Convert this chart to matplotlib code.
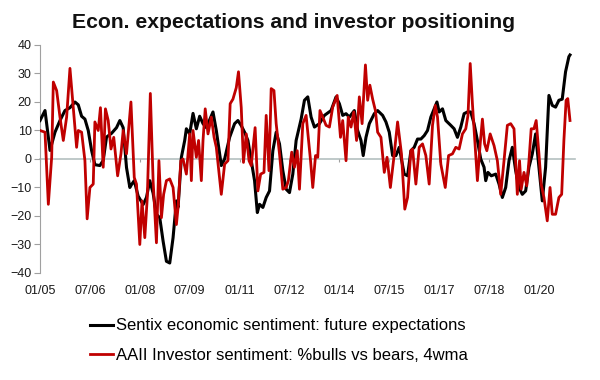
import matplotlib
matplotlib.use("Agg")
import matplotlib.pyplot as plt

plt.rcParams['font.family'] = ['Liberation Sans', 'DejaVu Sans']

title = "Econ. expectations and investor positioning"
label_sentix = "Sentix economic sentiment: future expectations"
label_aaii = "AAII Investor sentiment: %bulls vs bears, 4wma"

# x = months since Jan 2005
tick_months = [0, 18, 36, 54, 72, 90, 108, 126, 144, 162, 180]
tick_labels = ["01/05", "07/06", "01/08", "07/09", "01/11", "07/12",
               "01/14", "07/15", "01/17", "07/18", "01/20"]
y_ticks = [-40, -30, -20, -10, 0, 10, 20, 30, 40]

sentix_month = [0, 1.8, 3.6, 5.4, 7.2, 9, 10.8, 12.6, 13.8, 15, 16.2, 17.4, 18.6, 19.8,
                21.6, 22.8, 24, 25.8, 27.6, 28.8, 30, 31.2, 32.4, 33, 34, 35.4, 37.2,
                38.4, 39.6, 40.8, 42, 43.2, 44.4, 45.6, 46.8, 48, 49.2, 49.8, 51, 52.2,
                52.8, 54, 55.2, 56.4, 57.6, 58.8, 60, 62.4, 63.6, 65.4, 66.6, 68.4,
                70.2, 71.4, 72.6, 73.8, 75, 76.2, 77.4, 78.4, 79.2, 80.4, 81.6, 82.8,
                84, 85.2, 86.4, 87.6, 88.8, 90, 91.2, 92.4, 94.2, 95.4, 96.6, 97.8, 99,
                100.8, 102.6, 105, 106.8, 108, 109.2, 110.4, 111.6, 113.4, 114.6,
                115.8, 116.6, 117.6, 118.8, 120.6, 121.8, 123.6, 124.8, 126, 127.2,
                128.4, 129.6, 131.4, 132.6, 133.8, 135, 136.2, 137.4, 138.6, 139.8,
                141, 142.2, 143.2, 144, 145.2, 146.4, 148.2, 149.4, 150.6, 151.8, 153,
                154.2, 155.4, 156.6, 157.8, 159, 160.2, 160.8, 161.6, 162.8, 164.4,
                165.6, 166.8, 168, 169.2, 170.4, 171.6, 172.8, 174, 175.2, 176.4,
                177.6, 178.8, 180, 181.2, 182.4, 183.6, 184.8, 186, 187.2, 188.4,
                189.6, 190.8, 191.2]
sentix_value = [13.5, 17, 3, 9.4, 13.5, 17, 18, 20, 19, 15, 14, 10, 3, -2,
                -2.3, -0.5, 7.7, 9, 11, 13.5, 11, -3, -10, -9, -7.6, -13, -16,
                -13.5, -7.6, -12, -19.4, -20.6, -28.8, -35.9, -36.5, -27.6, -14.7, -17, 0.6, 6.5,
                10.6, 8.8, 16, 10.6, 15, 12.4, 11, 16.5, 10, -2.3, 0, 7.6,
                12.4, 13.5, 11.7, 9.4, 6.5, -0.6, -7.6, -18.8, -15.9, -17, -13.5, -11.2,
                2.9, 9.4, 5.3, -4.1, -10.6, -11.8, -5.3, 6.5, 14, 20.6, 21.8, 14.7, 11.2,
                12.4, 15.3, 17, 21.8, 19.4, 15.3, 15.9, 14.7, 17, 10,
                6.5, 1.2, 7.6, 12.4, 15.9, 17, 15.3, 13, 9.4, 1.2,
                1.2, 4.1, -5.3, -5.9, 2.9, 4.1, 7, 7, 8.2, 10,
                14.7, 17.6, 20, 16.5, 17.6, 13.5, 11.8, 10.6, 7.6, 11.2, 15.9,
                16.5, 16.5, 12.4, 6.5, 0, -2.9, -7.6, -4.7, -5.9, -5.3,
                -8.8, -13.5, -10, -0.6, 4.1, -4.1, -10, -12.4, -11.2, -2.9,
                1.8, 8.8, -2.9, -14.7, -2.9, 22.3, 18.8, 18.2, 20.6, 21,
                30.6, 35.9, 36.5]

aaii_month = [0, 1.8, 3, 4.2, 4.8, 6, 7.2, 8.4, 9.6, 10.8, 12, 13.2, 13.8, 15, 16.2, 17,
              18, 19.2, 19.8, 21, 21.8, 22.8, 23.6, 24.6, 25.6, 26.6, 28, 29.2, 30,
              31.2, 32.8, 34, 34.8, 36, 36.8, 37.8, 38.7, 39.8, 40.8, 42, 42.9, 43.8,
              44.6, 45.6, 46.8, 48, 49.2, 49.8, 50.8, 51.6, 52.8, 54, 54.6, 55.2, 56.4,
              57.2, 58.2, 58.8, 59.6, 60.6, 61.8, 62.8, 63.6, 65.4, 66.6, 67.8, 68.6,
              69.6, 70.8, 71.6, 72.6, 73.4, 74.4, 75.4, 76.2, 77.6, 78.6, 79.6, 80.8,
              81.6, 82.6, 83.4, 84.4, 85.2, 86.4, 87.6, 88.8, 89.6, 90.8, 91.8, 92.8,
              93.6, 94.8, 96, 97.6, 98.4, 99.4, 100.2, 101, 102, 103.2, 104.4, 105.6,
              107.2, 108.4, 109.2, 110.4, 111.2, 112.2, 113.2, 114.2, 115.2, 116.2,
              117.4, 118.2, 119, 120, 121, 121.8, 123, 124.2, 125.2, 126.4, 127.6, 129,
              130.4, 131.6, 132.6, 133.8, 134.4, 135.6, 136.8, 138, 139.2, 140.4, 141.6,
              142.6, 143.4, 144.6, 146.2, 147.4, 148.8, 150, 151.2, 152.4, 153.6, 154.4,
              155.2, 156, 157, 157.8, 158.8, 159.6, 160.4, 161.2, 162.4, 163.8, 165,
              166.2, 167.4, 168.6, 169.8, 171, 172.2, 173, 173.6, 174.6, 175.6, 176.4,
              177.2, 178.2, 179, 180, 180.8, 181.8, 183, 184, 184.8, 186, 187.2, 188.2,
              189, 189.8, 190.4, 191.2]
aaii_value = [10, 9.4, -15.9, 0.6, 27, 24, 14.7, 6.5, 14.7, 31.8, 18, 4.1, 10, 9.4, -0.6, -21,
              -10, -8.8, 13, 10, 18, -2.9, 17.6, 13.5, 3.5, 7.6, -5.9, 1.8, 10,
              1.8, 20, -6.5, -8.8, -30, -14.7, -27.6, -13.5, 23, -7.6, -29.4, -0.6, -20.6,
              -12.4, -7.6, -7, -10, -23, -17, -0.6, 0, -5.3, 8.8, -7.6, 10, 0.6,
              6.5, -7.6, 6.5, 17.6, 8.8, 14.7, 7.6, 4.1, -12.4, -1.8, -0.6, 19.4,
              21, 25, 30.6, 18, -1.2, 8.8, -0.6, -2.3, 11, -11.2, -5.3, -4.7,
              15.3, -4.1, 24.7, 24, 12.4, 1.8, -10.6, -10, -7.6, 2.4, -2.9, 2.9,
              -10.6, 12.4, 15.3, -0.6, -10, 1.2, 0.6, 17, 14.7, 11.8, 11.2, 18.2,
              22.3, 7.6, 13.5, -0.6, 14.7, 11.2, 16.5, 6.5, 21.8, 12.4,
              33, 20.6, 25.9, 21, 17, 9.4, 7.6, -4.7, 0.6, -10, 0, 13,
              1.8, -17.6, -13.5, 2.9, 3.5, -8.8, 4.1, 5.3, 1.2, -8.8, 11.8,
              18.8, 14.7, -1.8, -10, 1.2, 1.8, 4.1, 3.5, 8.8, 10.6, 15.3,
              33.5, 19.4, 4.1, -7.6, 5.3, 14, 5.3, 2.9, 8.8, 4.7, -0.6,
              -12.4, -0.6, 11.8, 12.4, 10.6, -12.4, -0.6, -10.6, -4.7, -9.4, -0.6,
              10.6, 10.6, 13.5, 1.8, -8.8, -13.5, -21.7, -10, -19.4, -19.4, -13.5, -12.4,
              6.5, 20.6, 21.2, 13.5]

fig = plt.figure(figsize=(6, 3.8), dpi=100)
ax = fig.add_axes([0.0667, 0.2816, 0.8916, 0.6])

ax.plot(sentix_month, sentix_value, color='black', lw=2.2, label=label_sentix, zorder=3)
ax.plot(aaii_month, aaii_value, color='#C00000', lw=2.0, label=label_aaii, zorder=4)

ax.set_xlim(0, 193)
ax.set_ylim(-40, 40)

# zero line axis with small ticks
for s in ['top', 'right']:
    ax.spines[s].set_visible(False)
ax.spines['left'].set_color('#A0A0A0')
ax.spines['bottom'].set_position(('data', 0))
ax.spines['bottom'].set_color('#B4C0C0')
ax.spines['bottom'].set_linewidth(1.2)
ax.spines['bottom'].set_zorder(1)
ax.set_xticks(tick_months)
ax.tick_params(axis='x', direction='out', length=2, color='#A0A0A0', labelbottom=False)

ax.set_yticks(y_ticks)
ax.tick_params(axis='y', direction='out', length=4, color='#A0A0A0',
               labelsize=9, labelcolor='#1a1a1a', pad=2)

sec = ax.secondary_xaxis(0.0)
sec.set_xticks(tick_months)
sec.set_xticklabels(tick_labels)
sec.tick_params(length=0, labelsize=9, labelcolor='#1a1a1a', pad=9)
sec.spines['bottom'].set_visible(False)

fig.text(0.49, 0.942, title, ha='center', va='center', fontsize=15.2,
         fontweight='bold', color='#111111')

fig.legend(loc='upper left', bbox_to_anchor=(0.15, 0.162), frameon=False,
           fontsize=12, handlelength=1.4, handletextpad=0.15, labelspacing=0.85,
           borderaxespad=0, borderpad=0)

fig.savefig('out.png', dpi=100)
